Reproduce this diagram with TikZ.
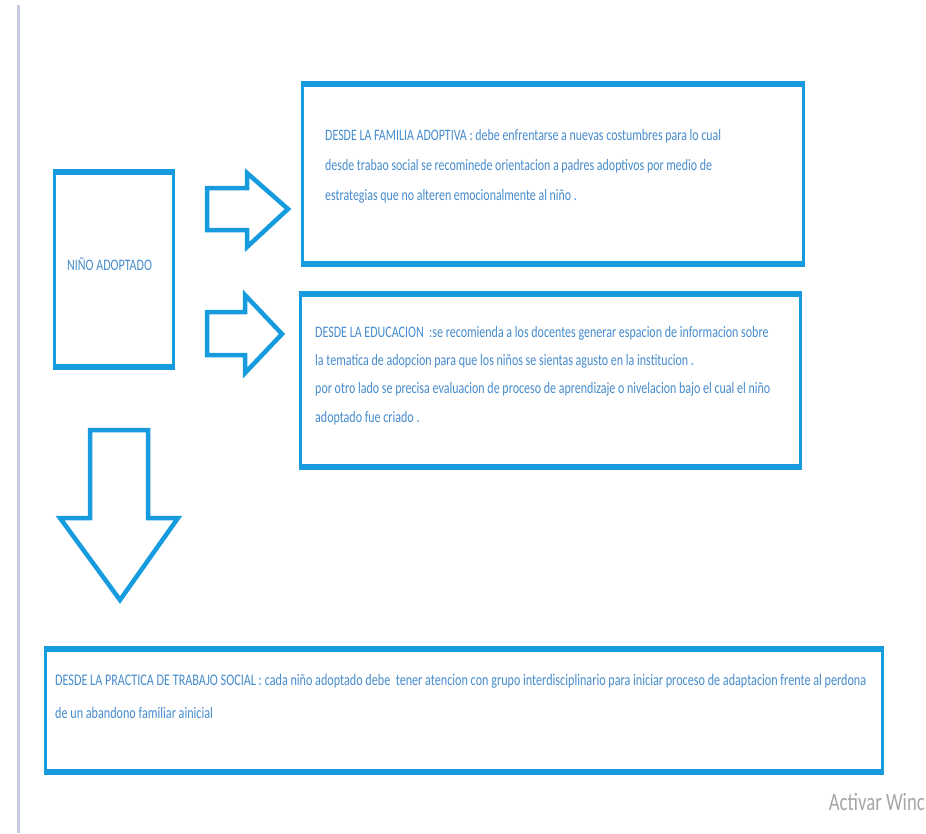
\documentclass[tikz,border=0pt]{standalone}
\usepackage{fontspec}
\newfontfamily\cond[FakeStretch=0.75]{Carlito}
\definecolor{boxblue}{RGB}{22,156,222}
\definecolor{txtblue}{RGB}{70,140,205}
\definecolor{sidegray}{RGB}{200,204,222}
\begin{document}
\begin{tikzpicture}[x=1pt,y=-1pt,
  frame/.style={draw=boxblue, line width=3pt, inner sep=0pt, fill=white},
  thickedge/.style={draw=boxblue, line width=6pt},
  blockarrow/.style={draw=boxblue, line width=4.5pt, line join=miter, fill=white},
  boxtext/.style 2 args={anchor=north west, inner sep=0pt, align=left, text=txtblue, font=\cond\fontsize{#1}{#2}\selectfont}
]
\useasboundingbox (0,0) rectangle (926,833);
\clip (0,0) rectangle (926,833);
\fill[white] (0,0) rectangle (926,833);
\draw[sidegray, line width=3pt] (18,5) -- (18,833);

% left box
\node[frame, minimum width=119pt, minimum height=192pt] (nino) at (113.5,269) {};
\draw[thickedge] (nino.north west) -- (nino.north east);
\draw[thickedge] (nino.south west) -- (nino.south east);
\node[anchor=base west, inner sep=0pt, text=txtblue, font=\cond\fontsize{16}{18}\selectfont] (ninotxt) at (67,270) {NIÑO ADOPTADO};

% box 1
\node[frame, minimum width=501pt, minimum height=177pt] (fam) at (552.5,173.5) {};
\draw[thickedge] (fam.north west) -- (fam.north east);
\draw[thickedge] (fam.south west) -- (fam.south east);
\node[boxtext={15.9}{30}] (famtxt) at (325,129) {DESDE LA FAMILIA ADOPTIVA : debe enfrentarse a nuevas costumbres para lo cual\\
desde trabao social se recominede orientacion a padres adoptivos por medio de\\
estrategias que no alteren emocionalmente al niño .};

% box 2
\node[frame, minimum width=500pt, minimum height=170pt] (edu) at (550,380) {};
\draw[thickedge] (edu.north west) -- (edu.north east);
\draw[thickedge] (edu.south west) -- (edu.south east);
\node[boxtext={16}{28.3}] (edutxt) at (315,326) {DESDE LA EDUCACION\ \ :se recomienda a los docentes generar espacion de informacion sobre\\
la tematica de adopcion para que los niños se sientas agusto en la institucion .\\
por otro lado se precisa evaluacion de proceso de aprendizaje o nivelacion bajo el cual el niño\\
adoptado fue criado .};

% box 3
\node[frame, minimum width=837pt, minimum height=120pt] (prac) at (463.5,710) {};
\draw[thickedge] (prac.north west) -- (prac.north east);
\draw[thickedge] (prac.south west) -- (prac.south east);
\node[boxtext={16.2}{33}] (practxt) at (55,674) {DESDE LA PRACTICA DE TRABAJO SOCIAL : cada niño adoptado debe\ \ tener atencion con grupo interdisciplinario para iniciar proceso de adaptacion frente al perdona\\
de un abandono familiar ainicial};

% block arrows
\draw[blockarrow] (207,188) -- (247,188) -- (247,173) -- (288,209) -- (247,247) -- (247,230) -- (207,230) -- cycle;
\draw[blockarrow] (207,312) -- (245,312) -- (245,295) -- (282,334) -- (245,373) -- (245,355) -- (207,355) -- cycle;
\draw[blockarrow] (90,430) -- (148,430) -- (148,518) -- (178,518) -- (120,600) -- (60,518) -- (90,518) -- cycle;

% watermark
\node[anchor=base east, inner sep=0pt, text=black!35, font=\cond\fontsize{25}{27}\selectfont] (wmark) at (925,810) {Activar Winc};
\end{tikzpicture}
\end{document}
